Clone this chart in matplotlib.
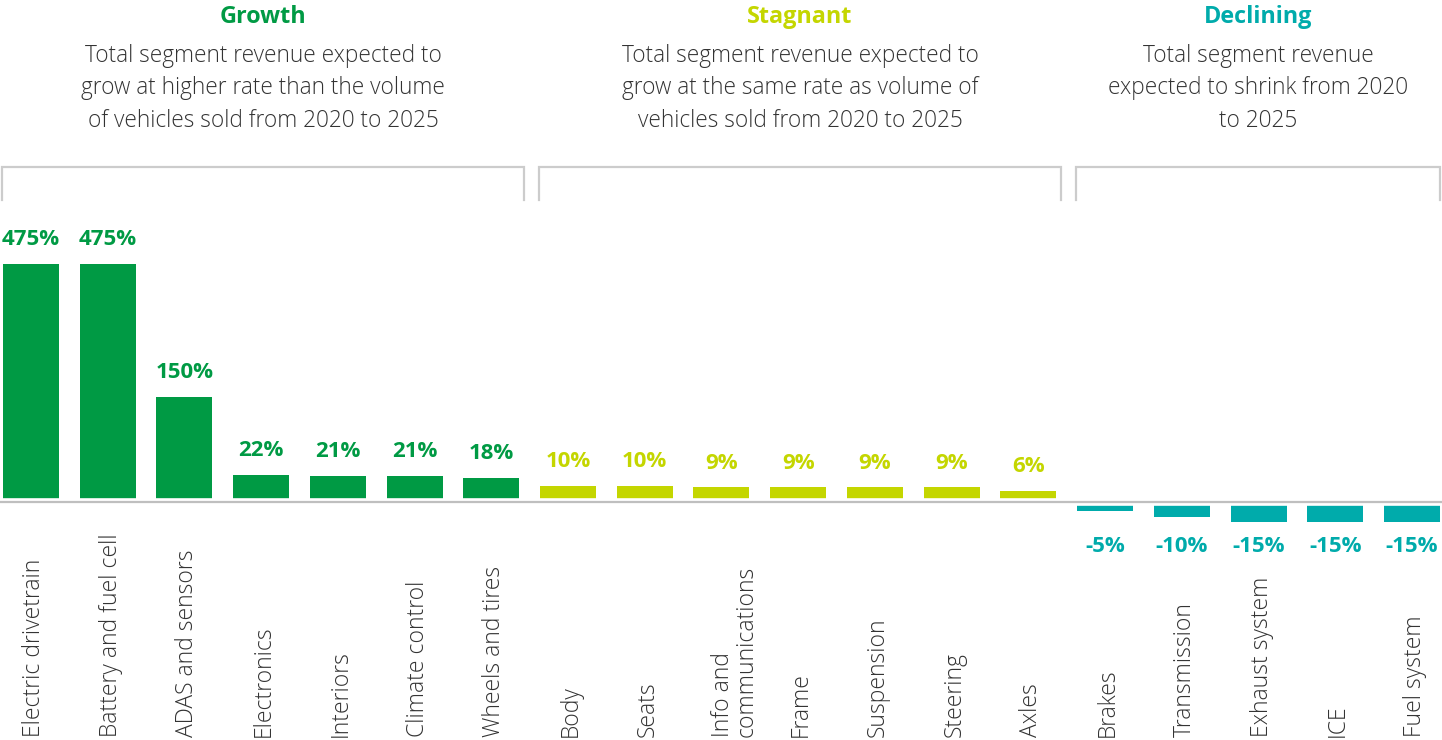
import numpy as np
import matplotlib.pyplot as plt
from matplotlib.transforms import blended_transform_factory, offset_copy

# segment data: expected revenue change 2020-2025
categories = ["Electric drivetrain", "Battery and fuel cell", "ADAS and sensors",
              "Electronics", "Interiors", "Climate control", "Wheels and tires",
              "Body", "Seats", "Info and\ncommunications", "Frame", "Suspension",
              "Steering", "Axles",
              "Brakes", "Transmission", "Exhaust system", "ICE", "Fuel system"]
values = [475, 475, 150, 22, 21, 21, 18,
          10, 10, 9, 9, 9, 9, 6,
          -5, -10, -15, -15, -15]
groups = ["Growth"] * 7 + ["Stagnant"] * 7 + ["Declining"] * 5

group_names = ["Growth", "Stagnant", "Declining"]
group_notes = [
    ["Total segment revenue expected to", "grow at higher rate than the volume",
     "of vehicles sold from 2020 to 2025"],
    ["Total segment revenue expected to", "grow at the same rate as volume of",
     "vehicles sold from 2020 to 2025"],
    ["Total segment revenue", "expected to shrink from 2020", "to 2025"],
]
group_colors = {"Growth": "#009A44", "Stagnant": "#C4D600", "Declining": "#00ABAB"}

plt.rcParams['font.family'] = ['Open Sans', 'DejaVu Sans']

W, H = 1442, 740
fig = plt.figure(figsize=(W / 100, H / 100), dpi=100)

def px(y):
    # figure fraction from pixel row (top = 0)
    return 1 - y / H

top_px, base_px = 160, 501.5
ax = fig.add_axes([0, 0, 1, px(top_px)])

# compressed power scale, the original chart is not linear
P = 0.71
fwd = lambda v: np.sign(v) * np.abs(v) ** P
inv = lambda u: np.sign(u) * np.abs(u) ** (1 / P)
ax.set_yscale('function', functions=(fwd, inv))
k = 237.5 / fwd(475.0)
ax.set_ylim(inv(-(H - base_px) / k), inv((base_px - top_px) / k))

step = 76.72
x = np.arange(len(values))
ax.set_xlim(-31 / step, (W - 31) / step)

colors = [group_colors[g] for g in groups]
ax.bar(x, values, width=0.73, color=colors, zorder=2)

# white gap around baseline, then gray axis line
ax.axhline(0, color='white', lw=5.5, zorder=3)
ax.axhline(0, color='#BFBFBF', lw=1.6, zorder=4)

trans = blended_transform_factory(ax.transData, fig.transFigure)

for i, v in enumerate(values):
    c = colors[i]
    if v > 0:
        ax.annotate(f"{v}%", (i, v), xytext=(0, 13.5), textcoords='offset points',
                    ha='center', va='baseline', fontsize=16, fontweight='bold', color=c)
    else:
        ax.text(i, px(552), f"{v}%", transform=trans, ha='center', va='baseline',
                fontsize=16, fontweight='bold', color=c)
    # multi-line labels keep the first line on the bar centre
    n_lines = categories[i].count("\n") + 1
    t = offset_copy(trans, fig=fig, x=11 * (n_lines - 1), y=0, units='dots')
    ax.text(i, px(737), categories[i], transform=t, rotation=90,
            rotation_mode='anchor', ha='left', va='center_baseline', linespacing=0.95,
            fontsize=16.5, fontweight='light', color='#333333')

# group brackets and headers
x_max = (W - 2 - 31) / step
for name, notes in zip(group_names, group_notes):
    idx = [i for i, g in enumerate(groups) if g == name]
    x0, x1 = idx[0] - 0.38, min(idx[-1] + 0.43, x_max)
    ax.plot([x0, x0, x1, x1], [px(200), px(167), px(167), px(200)], transform=trans,
            color='#CCCCCC', lw=1.6, clip_on=False, solid_joinstyle='miter')
    xc = (x0 + x1) / 2
    ax.text(xc, px(23), name, transform=trans, ha='center', va='baseline',
            fontsize=16.8, fontweight='bold', color=group_colors[name])
    for j, line in enumerate(notes):
        ax.text(xc, px(62 + 32.5 * j), line, transform=trans, ha='center',
                va='baseline', fontsize=16.3, fontweight='light', color='#333333')

ax.axis('off')
fig.savefig('out.png', dpi=100)
